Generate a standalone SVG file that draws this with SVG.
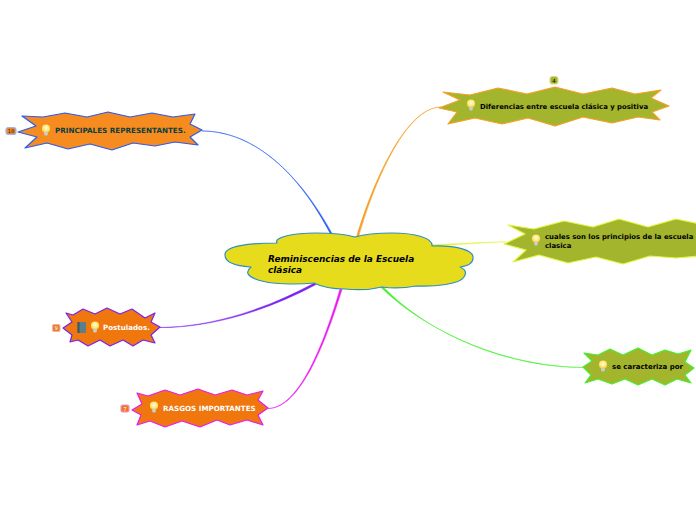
<svg xmlns="http://www.w3.org/2000/svg" width="696" height="520" viewBox="0 0 696 520">
<style>
text{font-family:"DejaVu Sans","Liberation Sans",sans-serif;font-weight:700;font-size:6.9px;fill:#000}
.w{fill:#fff}
.n{stroke-width:1.200;stroke-linejoin:round}
.b{font-size:5.500px;text-anchor:middle;font-weight:400}
.c{stroke-width:0.500}
.m{font-size:8.950px;font-style:italic}
.bd{stroke-width:1.200}
</style>
<defs>
<radialGradient id="g" cx="0.5" cy="0.4" r="0.6"><stop offset="0" stop-color="#fffde0"/><stop offset="0.6" stop-color="#ffe97a"/><stop offset="1" stop-color="#f5c52e"/></radialGradient>
<g id="bulb"><circle cx="0" cy="-1.300" r="4.100" fill="url(#g)"/><path d="M-1.800 1.800H1.800V4.800L0.900 5.600H-0.900L-1.800 4.800Z" fill="#c9cdd0"/></g>
</defs>
<g id="connectors">
<path class="c" fill="#2a5cf0" stroke="#2a5cf0" d="M330.500 234C300 175 255 131 202 131C255 131.300 300 175 332 233.500Z"/>
<path class="c" fill="#f5a02a" stroke="#f5a02a" d="M356.500 237C372 185 405 107 441 107C405 107.300 373 186 358.500 237.500Z"/>
<path class="c" fill="#e2f542" stroke="#e2f542" d="M432 244.500C460 244 485 242 506 241.800C485 242.300 460 245 432 246Z"/>
<path class="c" fill="#44f030" stroke="#44f030" d="M380.500 287C430 335 510 367 584 367.500C510 367.800 430 336 382.500 286Z"/>
<path class="c" fill="#7a22f0" stroke="#7a22f0" d="M314.500 283C270 307 215 327 160 327.500C215 327.800 271 308.500 316 284.500Z"/>
<path class="c" fill="#e81cf0" stroke="#e81cf0" d="M340 289C325 340 300 408 268 408.500C301 408.500 326 340.500 342 289.500Z"/>
</g>
<g id="central">
<path class="n" fill="#e6dc1c" stroke="#2e8fc4" d="M225 255C224 246 250 243 277 243C273 237 295 233 315 233C332 233 345 234 355 237C365 234 380 233 392 233C415 233 433 238 432 246C455 245 474 250 473 258C473 263 468 266 460 267C467 270 466 274 464 277C460 284 435 287 416 286C405 288 390 288 382 287C370 290 355 290 345 289C332 289 320 286 314 283C295 285 270 284 258 280C247 276 245 272 251 267C235 266 225 262 225 255Z"/>
<text x="268" y="262" class="m">Reminiscencias de la Escuela</text>
<text x="268" y="273" class="m">clásica</text>
</g>
<g id="node-principales">
<rect x="6" y="127.500" width="10" height="7" rx="2.500" fill="#f0882a" stroke="#9fb4ea" class="bd"/>
<text x="11" y="133" class="b" style="fill:#333">18</text>
<path class="n" fill="#f68b1f" stroke="#2a5cf0" d="M22 116L43 117L65 113L87 117L108 112L130 117L152 113L173 117L195 114L190 124L202 130L190 137L198 145L175 142L155 146L133 143L112 150L90 144L68 149L47 143L25 148L37 137L18 132L36 126Z"/>
<use href="#bulb" x="46" y="130"/>
<text x="55" y="133" style="font-size:7.200px;fill:#0b3f3f">PRINCIPALES REPRESENTANTES.</text>
</g>
<g id="node-diferencias">
<rect x="550" y="76.500" width="8" height="7.500" rx="2.500" fill="#a2b52c" stroke="#d8dc8a" class="bd"/>
<text x="554" y="82.500" class="b">4</text>
<path class="n" fill="#a2b52c" stroke="#f5a02a" d="M443 92L470 95L498 88L527 94L555 87L583 94L612 88L635 94L661 90L651 98L669 106L652 112L660 120L638 117L612 123L583 117L555 126L528 118L502 124L475 118L448 124L457 112L439 108L460 100Z"/>
<use href="#bulb" x="471" y="105"/>
<text x="480" y="109">Diferencias entre escuela clásica y positiva</text>
</g>
<g id="node-principios">
<path class="n" fill="#a2b52c" stroke="#e2f542" d="M508 225L534 229L564 221L593 227L619 219L648 227L676 219L700 224L700 256L676 258L650 256L623 264L596 257L568 263L539 255L513 262L526 250L504 244L525 234Z"/>
<use href="#bulb" x="536" y="240"/>
<text x="545" y="239">cuales son los principios de la escuela</text>
<text x="545" y="248">clasica</text>
</g>
<g id="node-caracteriza">
<path class="n" fill="#a2b52c" stroke="#44f030" d="M584 353L598 355L610 349L623 355L638 348L652 355L665 350L678 354L691 350L685 362L694 368L685 375L691 383L677 379L665 385L652 379L638 385L625 379L612 384L598 379L585 383L591 375L583 367L592 361Z"/>
<use href="#bulb" x="603" y="366"/>
<text x="612" y="369" style="font-size:7px">se caracteriza por</text>
</g>
<g id="node-postulados">
<rect x="52.500" y="324.500" width="7.500" height="7" rx="1.500" fill="#f0742a" stroke="#e8b8a0" class="bd"/>
<text x="56.200" y="330" class="b" style="fill:#fff">9</text>
<path class="n" fill="#f0760e" stroke="#7a22f0" d="M66 313L73 315L83 309L95 314L107 308L120 314L132 309L145 318L155 313L151 322L160 327L151 335L155 343L143 340L133 346L123 340L110 346L100 340L88 346L78 340L70 342L72 335L63 328L72 322Z"/>
<rect x="77.500" y="322" width="8.500" height="11" fill="#5c7f8c"/>
<rect x="77.500" y="322" width="2" height="11" fill="#41555e"/>
<use href="#bulb" x="95" y="327"/>
<text x="103" y="330" class="w" style="font-size:7.100px">Postulados.</text>
</g>
<g id="node-rasgos">
<rect x="121" y="405" width="8" height="7" rx="1.500" fill="#f0742a" stroke="#f09ac0" class="bd"/>
<text x="125" y="410.500" class="b" style="fill:#fff">7</text>
<path class="n" fill="#f0760e" stroke="#e81cf0" d="M137 393L148 396L165 390L180 395L198 389L215 395L232 390L247 395L263 391L258 400L268 408L258 415L263 425L247 420L230 425L217 420L200 427L182 421L165 427L150 421L137 425L141 415L132 410L142 404Z"/>
<use href="#bulb" x="154" y="407"/>
<text x="163" y="411" class="w" style="font-size:7.150px">RASGOS IMPORTANTES</text>
</g>
</svg>
